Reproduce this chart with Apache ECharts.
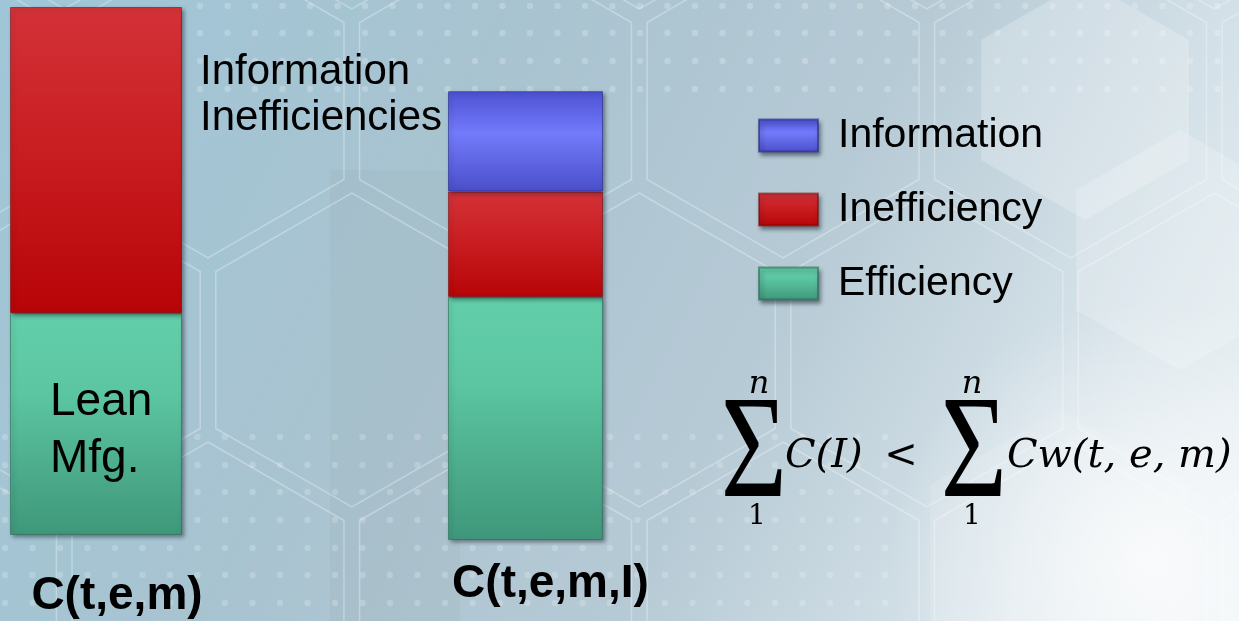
<!DOCTYPE html>
<html>
<head>
<meta charset="utf-8">
<script src="https://cdn.jsdelivr.net/npm/echarts@6/dist/echarts.min.js"></script>
<style>
  html, body { margin: 0; padding: 0; width: 1239px; height: 621px; overflow: hidden; }
  #chart { width: 1239px; height: 621px; }
</style>
</head>
<body>
<div id="chart"></div>
<script>
// ---- data ----
const seriesNames = ['Information', 'Inefficiency', 'Efficiency'];
const categoriesLeft = ['C(t,e,m)'];
const categoriesRight = ['C(t,e,m,I)'];
// left column: lean manufacturing cost split
const efficiencyLeft = [42];
const inefficiencyLeft = [58];
// right column: cost with information
const efficiencyRight = [46];
const inefficiencyRight = [20];
const informationRight = [19];
const axisMax = 100;
const leanLabel = 'Lean\nMfg.';
const infoIneffLabel = 'Information\nInefficiencies';

// ---- styles ----
const SANS = 'Liberation Sans, Arial, sans-serif';
function vGrad(stops) {
  return new echarts.graphic.LinearGradient(0, 0, 0, 1,
    stops.map(s => ({ offset: s[0], color: s[1] })));
}
const bevel = { shadowColor: 'rgba(20,30,40,0.45)', shadowBlur: 4, shadowOffsetX: 2, shadowOffsetY: 2 };
const greenStyle = Object.assign({
  color: vGrad([[0, '#63cfaa'], [0.35, '#5cc6a2'], [1, '#3f977a']]),
  borderColor: 'rgba(40,110,85,0.6)', borderWidth: 1
}, bevel);
const redStyle = Object.assign({
  color: vGrad([[0, '#d33238'], [0.5, '#c81c20'], [1, '#b70407']]),
  borderColor: 'rgba(120,0,0,0.5)', borderWidth: 1
}, bevel);
const blueStyle = Object.assign({
  color: vGrad([[0, '#4d52d3'], [0.42, '#737bfb'], [1, '#4a4ec9']]),
  borderColor: 'rgba(40,40,140,0.6)', borderWidth: 1
}, bevel);

// ---- background decoration: honeycomb, dots ----
const W = 1239, H = 621;
const bg = [];
bg.push({
  type: 'rect', z: -10, silent: true,
  shape: { x: 0, y: 0, width: W, height: H },
  style: { fill: new echarts.graphic.LinearGradient(0, 0, 1, 1, [
    { offset: 0, color: '#9fc6d7' },
    { offset: 0.35, color: '#a9c3d0' },
    { offset: 0.6, color: '#b6cad5' },
    { offset: 0.85, color: '#dbe6ec' },
    { offset: 1, color: '#eef3f6' }
  ]) }
});
// soft highlight lower right
bg.push({
  type: 'circle', z: -9, silent: true,
  shape: { cx: 1150, cy: 560, r: 260 },
  style: { fill: new echarts.graphic.RadialGradient(0.5, 0.5, 0.5, [
    { offset: 0, color: 'rgba(255,255,255,0.75)' },
    { offset: 1, color: 'rgba(255,255,255,0)' }
  ]) }
});
// greyish band to the right of the left column
bg.push({
  type: 'polygon', z: -9, silent: true,
  shape: { points: [[330, 170], [460, 170], [460, 621], [330, 621]] },
  style: { fill: 'rgba(150,165,175,0.15)' }
});
function hexPoints(cx, cy, r) {
  const pts = [];
  for (let i = 0; i < 6; i++) {
    const a = Math.PI / 180 * (60 * i - 90);
    pts.push([cx + r * Math.cos(a), cy + r * Math.sin(a)]);
  }
  return pts;
}
const R = 166, dx = Math.sqrt(3) * R, dy = 1.5 * R;
for (let row = -1; row < 4; row++) {
  const cy = 101 + row * dy;
  const off = (row % 2 === 0) ? 208 : 208 + dx / 2;
  for (let k = -2; k < 6; k++) {
    const cx = off + k * dx;
    bg.push({
      type: 'polygon', z: -8, silent: true,
      shape: { points: hexPoints(cx, cy, R - 9) },
      style: { fill: 'none', stroke: 'rgba(255,255,255,0.3)', lineWidth: 1.5 }
    });
  }
}
// translucent lighter cells
[[1085, 100, 120, 0.22], [1180, 250, 120, 0.2], [1060, 560, 150, 0.12]].forEach(h => {
  bg.push({
    type: 'polygon', z: -8, silent: true,
    shape: { points: hexPoints(h[0], h[1], h[2]) },
    style: { fill: 'rgba(255,255,255,' + h[3] + ')' }
  });
});
// dot rows
function dotRows(ys, x0, x1, alpha) {
  ys.forEach(y => {
    for (let x = x0; x <= x1; x += 27.5) {
      bg.push({
        type: 'circle', z: -7, silent: true,
        shape: { cx: x, cy: y, r: 3.2 },
        style: { fill: 'rgba(255,255,255,' + alpha + ')' }
      });
    }
  });
}
dotRows([6, 33, 61, 89], 200, 1239, 0.22);
dotRows([437, 465, 492, 520, 548, 575, 603], 5, 900, 0.2);

// ---- formula ----
const SERIF = 'DejaVu Serif, Liberation Serif, serif';
function mathText(x, y, text, size, align, italic, family, scaleX) {
  return {
    type: 'text', z: 10, silent: true, x: x, y: y, scaleX: scaleX || 1,
    style: {
      text: text, fill: '#000', font: (italic ? 'italic ' : '') + size + 'px ' + (family || SERIF),
      align: align, verticalAlign: 'middle'
    }
  };
}
const SIGMA_FONT = 'Liberation Serif, Times New Roman, serif';
const formula = [
  mathText(754, 458, '\u03A3', 146, 'center', false, SIGMA_FONT, 0.78),
  mathText(759, 385, 'n', 32, 'center', true),
  mathText(757, 517, '1', 28, 'center', false),
  mathText(785, 457, 'C(I)', 40, 'left', true),
  mathText(901, 457, '<', 40, 'center', false),
  mathText(974, 458, '\u03A3', 146, 'center', false, SIGMA_FONT, 0.78),
  mathText(972, 385, 'n', 32, 'center', true),
  mathText(972, 517, '1', 28, 'center', false),
  mathText(1007, 457, 'Cw(t, e, m)', 40, 'left', true)
];

const chart = echarts.init(document.getElementById('chart'), null, { renderer: 'canvas' });
const option = {
  animation: false,
  backgroundColor: '#a9c3d0',
  graphic: bg.concat(formula),
  legend: {
    data: seriesNames,
    orient: 'vertical',
    left: 758, top: 115,
    padding: 0,
    itemWidth: 59, itemHeight: 32, itemGap: 33,
    icon: 'rect',
    itemStyle: { shadowColor: 'rgba(20,30,40,0.5)', shadowBlur: 4, shadowOffsetX: 2, shadowOffsetY: 3 },
    textStyle: { fontFamily: SANS, fontSize: 41, color: '#000', lineHeight: 32, padding: [0, 0, 0, 15] }
  },
  grid: [
    { left: 10, top: 7, width: 172, height: 528 },
    { left: 448, top: 12, width: 155, height: 528 }
  ],
  xAxis: [
    { gridIndex: 0, type: 'category', data: categoriesLeft,
      axisLine: { show: false }, axisTick: { show: false },
      axisLabel: { margin: 38, fontFamily: SANS, fontWeight: 'bold', fontSize: 46, color: '#000', padding: [0, 0, 0, 42] } },
    { gridIndex: 1, type: 'category', data: categoriesRight,
      axisLine: { show: false }, axisTick: { show: false },
      axisLabel: { margin: 21, fontFamily: SANS, fontWeight: 'bold', fontSize: 46, color: '#000', padding: [0, 0, 0, 50] } }
  ],
  yAxis: [
    { gridIndex: 0, type: 'value', min: 0, max: axisMax, show: false },
    { gridIndex: 1, type: 'value', min: 0, max: axisMax, show: false }
  ],
  series: [
    { name: 'Efficiency', type: 'bar', xAxisIndex: 0, yAxisIndex: 0, stack: 'left',
      barWidth: '100%', data: efficiencyLeft, itemStyle: greenStyle,
      label: { show: true, position: 'insideLeft', distance: 40, offset: [0, 7], formatter: leanLabel,
        fontFamily: SANS, fontSize: 46, lineHeight: 57, color: '#000' } },
    { name: 'Inefficiency', type: 'bar', xAxisIndex: 0, yAxisIndex: 0, stack: 'left',
      barWidth: '100%', data: inefficiencyLeft, itemStyle: redStyle,
      label: { show: true, position: [190, 42], align: 'left', verticalAlign: 'top',
        formatter: infoIneffLabel, fontFamily: SANS, fontSize: 42, lineHeight: 46, color: '#000' } },
    { name: 'Efficiency', type: 'bar', xAxisIndex: 1, yAxisIndex: 1, stack: 'right',
      barWidth: '100%', data: efficiencyRight, itemStyle: greenStyle },
    { name: 'Inefficiency', type: 'bar', xAxisIndex: 1, yAxisIndex: 1, stack: 'right',
      barWidth: '100%', data: inefficiencyRight, itemStyle: redStyle },
    { name: 'Information', type: 'bar', xAxisIndex: 1, yAxisIndex: 1, stack: 'right',
      barWidth: '100%', data: informationRight, itemStyle: blueStyle }
  ]
};
chart.setOption(option);
</script>
</body>
</html>
